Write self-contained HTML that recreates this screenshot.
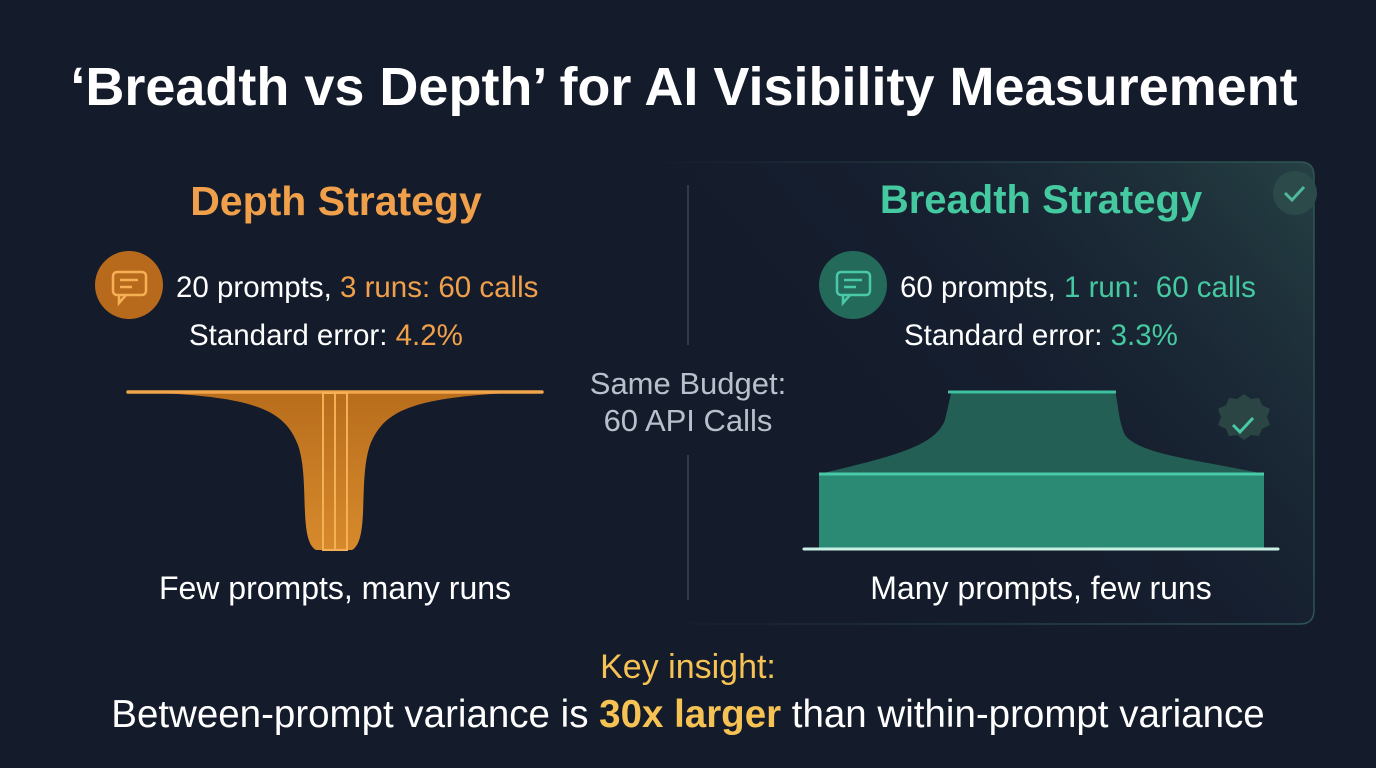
<!DOCTYPE html>
<html><head><meta charset="utf-8"><style>
html,body{margin:0;padding:0}
body{width:1376px;height:768px;background:#141b2b;font-family:"Liberation Sans",sans-serif;position:relative;overflow:hidden;color:#fff}
.t{position:absolute;white-space:nowrap}
</style></head><body>
<svg width="1376" height="768" style="position:absolute;left:0;top:0">
<defs>
<linearGradient id="card" x1="1" y1="0" x2="0" y2="0.6">
<stop offset="0" stop-color="#2a4a4a" stop-opacity="0.8"/><stop offset="0.5" stop-color="#1a2838" stop-opacity="0.3"/><stop offset="1" stop-color="#141b2b" stop-opacity="0"/></linearGradient>
<linearGradient id="bd" x1="1" y1="0" x2="0" y2="0"><stop offset="0" stop-color="#2f5554"/><stop offset="0.6" stop-color="#2f5554" stop-opacity="0.4"/><stop offset="1" stop-color="#2f5554" stop-opacity="0"/></linearGradient>
<linearGradient id="or" x1="0" y1="0" x2="0" y2="1"><stop offset="0" stop-color="#b86d1c"/><stop offset="1" stop-color="#d78a2c"/></linearGradient>
</defs>
<path d="M640 162 H1300 Q1314 162 1314 176 V610 Q1314 624 1300 624 H640" fill="url(#card)" stroke="url(#bd)" stroke-width="1.5"/>
<line x1="688" y1="185" x2="688" y2="345" stroke="#3a4456" stroke-width="1.5"/>
<line x1="688" y1="455" x2="688" y2="600" stroke="#3a4456" stroke-width="1.5"/>
<path d="M160 393 C260 398 285 412 298 445 C310 480 298 540 316 550 H352 C370 540 358 480 370 445 C383 412 410 398 510 393 Z" fill="url(#or)"/>
<line x1="128" y1="392" x2="542" y2="392" stroke="#f2a54a" stroke-width="3.5" stroke-linecap="round"/>
<rect x="323" y="393" width="24" height="157" fill="none" stroke="#f5b056" stroke-width="2"/>
<line x1="335" y1="393" x2="335" y2="550" stroke="#f5b056" stroke-width="2"/>
<path d="M819 474 C900 455 935 445 945 420 C950 400 950 395 952 392 H1115 C1118 400 1118 420 1125 435 C1140 455 1200 460 1264 474 Z" fill="#235f55"/>
<line x1="948" y1="392" x2="1116" y2="392" stroke="#3fc0a0" stroke-width="3"/>
<rect x="819" y="474" width="445" height="75" fill="#2a8a74"/>
<line x1="819" y1="474" x2="1264" y2="474" stroke="#4ac9a8" stroke-width="3"/>
<line x1="804" y1="549" x2="1278" y2="549" stroke="#c8f0e4" stroke-width="3" stroke-linecap="round"/>
<circle cx="1295" cy="193" r="22" fill="#2d4a4a"/>
<path d="M1285 193 l7 7 l12 -13" fill="none" stroke="#4fb89a" stroke-width="3"/>
<polygon points="1244,394 1251,399 1259,398 1262,405 1270,409 1267,417 1270,425 1262,429 1259,436 1251,435 1244,440 1237,435 1229,436 1226,429 1218,425 1221,417 1218,409 1226,405 1229,398 1237,399" fill="#2b4545"/>
<path d="M1233 425 l7 7 l13 -14" fill="none" stroke="#4ac9a8" stroke-width="3"/>
<circle cx="129" cy="285" r="34" fill="#b86a1c"/>
<rect x="113" y="272" width="33" height="23" rx="4" fill="none" stroke="#f5b056" stroke-width="2.5"/>
<path d="M119 295 l0 8 l7 -8" fill="none" stroke="#f5b056" stroke-width="2.5"/>
<line x1="120" y1="280" x2="138" y2="280" stroke="#f5b056" stroke-width="2.5"/>
<line x1="120" y1="287" x2="132" y2="287" stroke="#f5b056" stroke-width="2.5"/>
<circle cx="853" cy="285" r="34" fill="#236a5b"/>
<rect x="837" y="272" width="33" height="23" rx="4" fill="none" stroke="#4ac9a8" stroke-width="2.5"/>
<path d="M843 295 l0 8 l7 -8" fill="none" stroke="#4ac9a8" stroke-width="2.5"/>
<line x1="844" y1="280" x2="862" y2="280" stroke="#4ac9a8" stroke-width="2.5"/>
<line x1="844" y1="287" x2="856" y2="287" stroke="#4ac9a8" stroke-width="2.5"/>
</svg>
<div class="t" style="left:-4px;width:1376px;text-align:center;top:56px;font-size:54px;font-weight:bold">‘Breadth vs Depth’ for AI Visibility Measurement</div>
<div class="t" style="left:136px;width:400px;text-align:center;top:178px;font-size:41px;font-weight:bold;color:#f0a04a">Depth Strategy</div>
<div class="t" style="left:841px;width:400px;text-align:center;top:178px;font-size:40px;font-weight:bold;color:#45c9a0">Breadth Strategy</div>
<div class="t" style="left:176px;top:271px;font-size:29.5px">20 prompts, <span style="color:#f0a04a">3 runs: 60 calls</span></div>
<div class="t" style="left:189px;top:319px;font-size:29.5px">Standard error: <span style="color:#f0a04a">4.2%</span></div>
<div class="t" style="left:900px;top:271px;font-size:29.5px">60 prompts, <span style="color:#45c9a0">1 run:&nbsp; 60 calls</span></div>
<div class="t" style="left:904px;top:319px;font-size:29.5px">Standard error: <span style="color:#45c9a0">3.3%</span></div>
<div class="t" style="left:568px;width:240px;text-align:center;top:365px;font-size:31px;line-height:37px;color:#b8c0cc">Same Budget:<br>60 API Calls</div>
<div class="t" style="left:135px;width:400px;text-align:center;top:570px;font-size:32px">Few prompts, many runs</div>
<div class="t" style="left:841px;width:400px;text-align:center;top:570px;font-size:32px">Many prompts, few runs</div>
<div class="t" style="left:0;width:1376px;text-align:center;top:648px;font-size:34px;color:#f5c253">Key insight:</div>
<div class="t" style="left:0;width:1376px;text-align:center;top:693px;font-size:38.5px">Between-prompt variance is <b style="color:#f5c253">30x larger</b> than within-prompt variance</div>
</body></html>
